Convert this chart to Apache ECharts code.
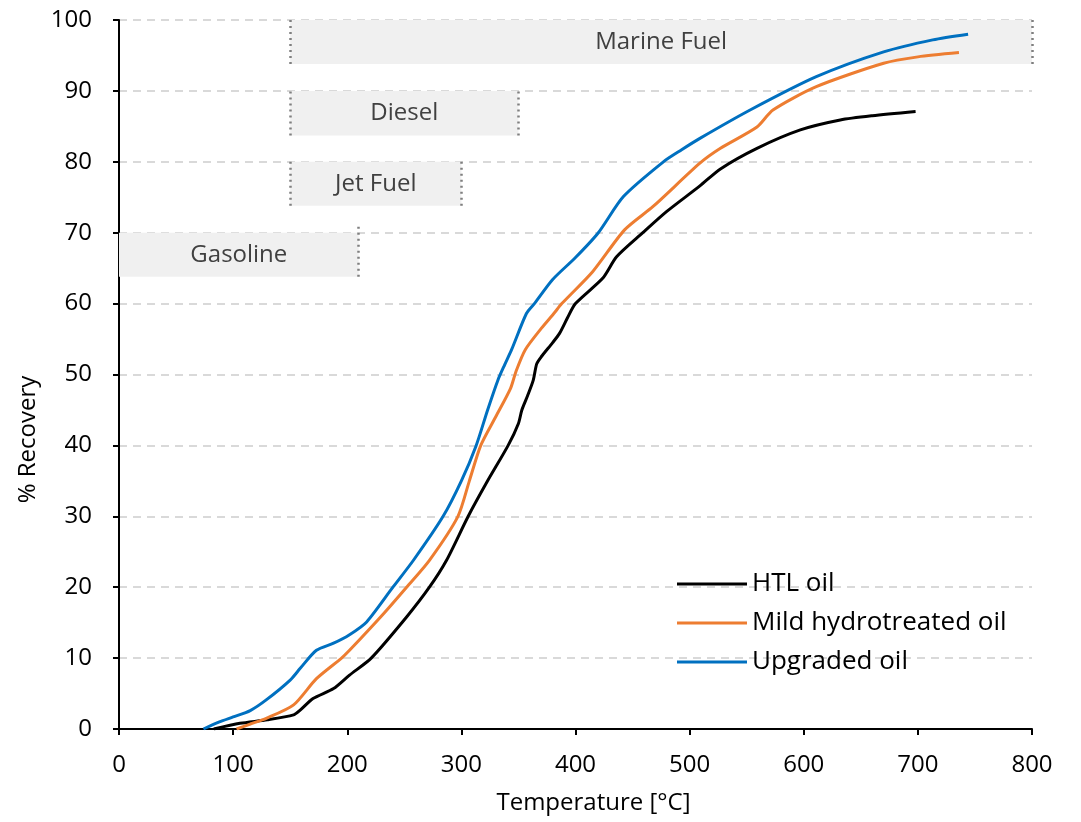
<!DOCTYPE html>
<html><head><meta charset="utf-8">
<script src="https://cdn.jsdelivr.net/npm/echarts@6/dist/echarts.min.js"></script>
<style>html,body{margin:0;padding:0;background:#fff}#c{width:1081px;height:822px}</style>
</head><body><div id="c"></div>
<script>
const seriesNames = ['HTL oil', 'Mild hydrotreated oil', 'Upgraded oil'];
const htlTemp = [83,106,130,153,159,170,188,202,221,252,272,287,306,323,341,350,353,358,363,366,370,380,386,393,400,424,436,459,480,509,527,559,597,632,660,698];
const htlRec  = [0,0.8,1.3,2.0,2.7,4.3,5.7,7.6,10,15.8,20,23.8,30,35,40,43.1,45,47,49.2,51.5,52.5,54.5,55.8,58,60,63.6,66.6,70,73,76.6,79,81.9,84.5,85.9,86.5,87.1];
const mildTemp = [103,115,129,153,173,195,202,232,252,272,297,307,317,330,343,348,356,370,381,388,415,443,468,509,527,559,573,611,670,700,736];
const mildRec  = [0,0.7,1.5,3.4,7.1,10,11.1,16.3,20,23.8,30,35,40,44,48,50.5,53.5,56.5,58.6,60,64.5,70.4,73.7,79.8,81.9,84.9,87.3,90.6,93.9,94.8,95.4];
const upTemp = [74,88,100,115,129,150,159,173,188,202,217,240,258,284,300,313,323,332,338,344,357,364,380,400,420,442,477,493,509,553,611,670,713,744];
const upRec  = [0,1,1.7,2.6,4.1,6.9,8.6,11.1,12.1,13.3,15.1,20,23.8,30,35,40,45,49.2,51.4,53.5,58.6,60,63.4,66.5,70,75.1,80,81.7,83.3,87.3,92,95.5,97.2,98.0];
const fuelNames = ['Marine Fuel', 'Diesel', 'Jet Fuel', 'Gasoline'];
const fuelStart = [150, 150, 150, 0];
const fuelEnd   = [800, 350, 300, 210];
const fuelLow   = [93.8, 83.7, 73.8, 63.8];
const fuelHigh  = [100, 90, 80, 70];

const zip = (a,b) => a.map((v,i) => [v, b[i]]);
const colors = ['#000000', '#ED7D31', '#0070C0'];
const font = 'Open Sans, Liberation Sans, sans-serif';

const areas = fuelNames.map((n,i) => [
  {name: n, coord: [fuelStart[i], fuelLow[i]]},
  {coord: [fuelEnd[i], fuelHigh[i]]}
]);
const dotted = [];
fuelNames.forEach((n,i) => {
  if (fuelStart[i] > 0) dotted.push([{coord:[fuelStart[i], fuelLow[i]]},{coord:[fuelStart[i], fuelHigh[i]]}]);
  const top = n === 'Gasoline' ? 71 : fuelHigh[i];
  dotted.push([{coord:[fuelEnd[i], fuelLow[i]]},{coord:[fuelEnd[i], top]}]);
});

const data = [zip(htlTemp, htlRec), zip(mildTemp, mildRec), zip(upTemp, upRec)];
const series = seriesNames.map((n,i) => ({
  name: n, type: 'line', data: data[i], showSymbol: false, smooth: 0.25,
  lineStyle: {color: colors[i], width: 3}, itemStyle: {color: colors[i]}, z: 5
}));
series.push({
  name: 'boxes', type: 'line', data: [], silent: true, z: 1,
  markArea: {
    silent: true,
    itemStyle: {color: '#f0f0f0'},
    label: {show: true, position: 'inside', color: '#404040', fontSize: 24, fontFamily: font},
    data: areas
  },
  markLine: {
    silent: true, symbol: 'none', label: {show: false},
    lineStyle: {color: '#7f7f7f', type: [2,4], width: 2.5},
    data: dotted
  }
});

const chart = echarts.init(document.getElementById('c'));
chart.setOption({
  animation: false,
  backgroundColor: '#fff',
  grid: {left: 119, right: 49, top: 20, bottom: 93},
  legend: {
    data: seriesNames, orient: 'vertical', left: 672, top: 566,
    icon: 'rect', itemWidth: 70, itemHeight: 3, itemGap: 13,
    textStyle: {fontSize: 26, lineHeight: 26, color: '#000', fontFamily: font}
  },
  xAxis: {
    type: 'value', min: 0, max: 800, interval: 100,
    name: 'Temperature [°C]', nameLocation: 'middle', nameGap: 62,
    nameTextStyle: {fontSize: 24, color: '#000', fontFamily: font, padding: [0,0,0,36]},
    axisLine: {lineStyle: {color: '#000', width: 2}},
    axisTick: {show: true, length: 6, lineStyle: {color: '#000', width: 2}},
    axisLabel: {fontSize: 24, color: '#000', fontFamily: font, margin: 24},
    splitLine: {show: false}
  },
  yAxis: {
    type: 'value', min: 0, max: 100, interval: 10,
    name: '% Recovery', nameLocation: 'middle', nameGap: 70,
    nameTextStyle: {fontSize: 24, color: '#000', fontFamily: font, padding: [0,130,0,0]},
    axisLine: {show: true, lineStyle: {color: '#000', width: 2}},
    axisTick: {show: true, length: 6, lineStyle: {color: '#000', width: 2}},
    axisLabel: {fontSize: 24, color: '#000', fontFamily: font, margin: 27},
    splitLine: {show: true, lineStyle: {color: '#d9d9d9', type: [8,6], width: 2}}
  },
  series: series
});
</script></body></html>
